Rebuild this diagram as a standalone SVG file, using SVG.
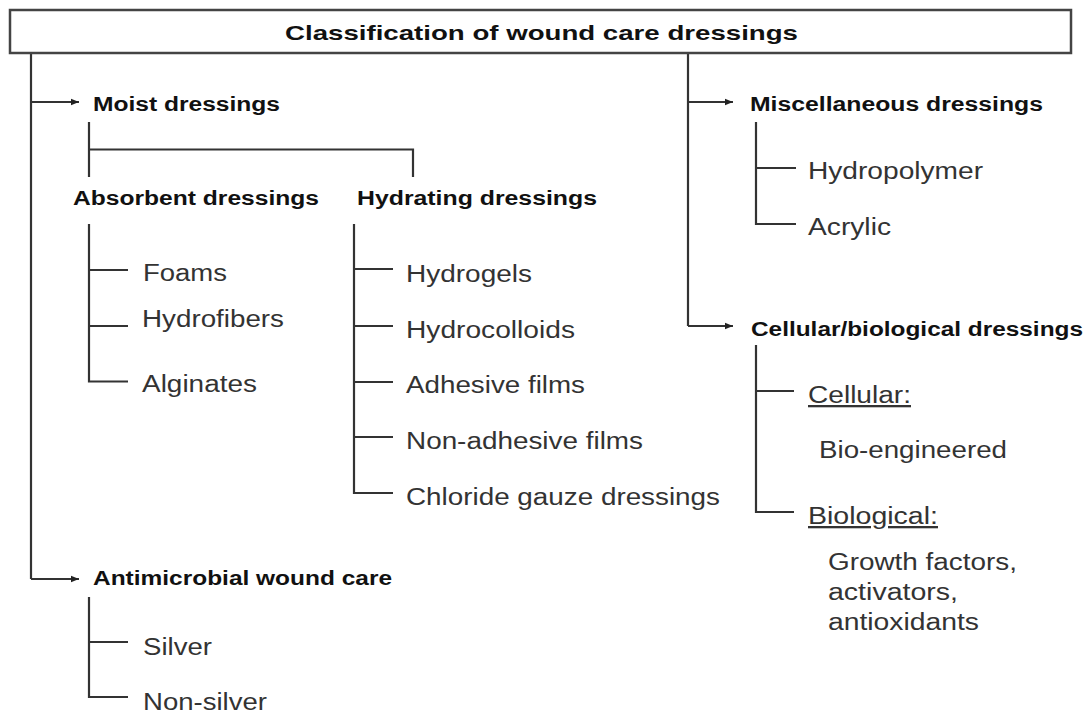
<svg xmlns="http://www.w3.org/2000/svg" width="1089" height="713" viewBox="0 0 1089 713">
<style>
.b{font-family:"Liberation Sans",Arial,sans-serif;font-weight:bold;font-size:20px;fill:#111}
.t{font-family:"Liberation Sans",Arial,sans-serif;font-weight:bold;font-size:21px;fill:#111}
.r{font-family:"Liberation Sans",Arial,sans-serif;font-size:23px;fill:#333}
.u{text-decoration:underline}
.c{fill:none;stroke:#333;stroke-width:2.2}
</style>
<defs>
<marker id="ah" viewBox="0 0 10 10" refX="10" refY="5" markerWidth="9" markerHeight="8" markerUnits="userSpaceOnUse" orient="auto">
<path d="M0,1 L10,5 L0,9 Z" fill="#222"/>
</marker>
</defs>
<rect width="1089" height="713" fill="#fff"/>
<g id="connectors">
<path class="c" d="M31,53 V579"/>
<path class="c" d="M31,102 H79" marker-end="url(#ah)"/>
<path class="c" d="M31,579 H79" marker-end="url(#ah)"/>
<path class="c" d="M688,53 V326"/>
<path class="c" d="M688,102 H733" marker-end="url(#ah)"/>
<path class="c" d="M688,326 H733" marker-end="url(#ah)"/>
<path class="c" d="M89,122 V177 M89,149.5 H413 V177"/>
<path class="c" d="M89,224 V381.5 H128 M89,270 H128 M89,326 H128"/>
<path class="c" d="M354,224 V493 H393 M354,269 H393 M354,326 H393 M354,382 H393 M354,437 H393"/>
<path class="c" d="M756,122 V224 H796 M756,168 H796"/>
<path class="c" d="M756,345 V512 H794 M756,391 H794"/>
<path class="c" d="M89,597 V697 H128 M89,642 H128"/>
</g>
<g id="title">
<rect x="10" y="10" width="1061" height="43" fill="#fff" stroke="#444" stroke-width="2.5"/>
<text class="t" x="285" y="40" textLength="513" lengthAdjust="spacingAndGlyphs">Classification of wound care dressings</text>
</g>
<g id="moist"><text class="b" x="93" y="111" textLength="187" lengthAdjust="spacingAndGlyphs">Moist dressings</text></g>
<g id="absorbent"><text class="b" x="73" y="205" textLength="246" lengthAdjust="spacingAndGlyphs">Absorbent dressings</text></g>
<g id="hydrating"><text class="b" x="357" y="205" textLength="240" lengthAdjust="spacingAndGlyphs">Hydrating dressings</text></g>
<g id="foams"><text class="r" x="143" y="281" textLength="84" lengthAdjust="spacingAndGlyphs">Foams</text></g>
<g id="hydrofibers"><text class="r" x="142" y="327" textLength="142" lengthAdjust="spacingAndGlyphs">Hydrofibers</text></g>
<g id="alginates"><text class="r" x="142" y="392" textLength="115" lengthAdjust="spacingAndGlyphs">Alginates</text></g>
<g id="hydrogels"><text class="r" x="406" y="282" textLength="126" lengthAdjust="spacingAndGlyphs">Hydrogels</text></g>
<g id="hydrocolloids"><text class="r" x="406" y="338" textLength="169" lengthAdjust="spacingAndGlyphs">Hydrocolloids</text></g>
<g id="adhesive"><text class="r" x="406" y="393" textLength="179" lengthAdjust="spacingAndGlyphs">Adhesive films</text></g>
<g id="nonadhesive"><text class="r" x="406" y="449" textLength="237" lengthAdjust="spacingAndGlyphs">Non-adhesive films</text></g>
<g id="chloride"><text class="r" x="406" y="505" textLength="314" lengthAdjust="spacingAndGlyphs">Chloride gauze dressings</text></g>
<g id="misc"><text class="b" x="750" y="111" textLength="293" lengthAdjust="spacingAndGlyphs">Miscellaneous dressings</text></g>
<g id="hydropolymer"><text class="r" x="808" y="179" textLength="175" lengthAdjust="spacingAndGlyphs">Hydropolymer</text></g>
<g id="acrylic"><text class="r" x="808" y="235" textLength="83" lengthAdjust="spacingAndGlyphs">Acrylic</text></g>
<g id="cellbio"><text class="b" x="751" y="336" textLength="332" lengthAdjust="spacingAndGlyphs">Cellular/biological dressings</text></g>
<g id="cellular"><text class="r u" x="808" y="403" textLength="103" lengthAdjust="spacingAndGlyphs">Cellular:</text>
<text class="r" x="819" y="458" textLength="188" lengthAdjust="spacingAndGlyphs">Bio-engineered</text></g>
<g id="biological"><text class="r u" x="808" y="524" textLength="130" lengthAdjust="spacingAndGlyphs">Biological:</text>
<text class="r" x="828" y="570" textLength="189" lengthAdjust="spacingAndGlyphs">Growth factors,</text>
<text class="r" x="828" y="600" textLength="130" lengthAdjust="spacingAndGlyphs">activators,</text>
<text class="r" x="828" y="630" textLength="151" lengthAdjust="spacingAndGlyphs">antioxidants</text></g>
<g id="antimicrobial"><text class="b" x="93" y="585" textLength="299" lengthAdjust="spacingAndGlyphs">Antimicrobial wound care</text></g>
<g id="silver"><text class="r" x="143" y="655" textLength="69" lengthAdjust="spacingAndGlyphs">Silver</text></g>
<g id="nonsilver"><text class="r" x="143" y="710" textLength="124" lengthAdjust="spacingAndGlyphs">Non-silver</text></g>
</svg>
